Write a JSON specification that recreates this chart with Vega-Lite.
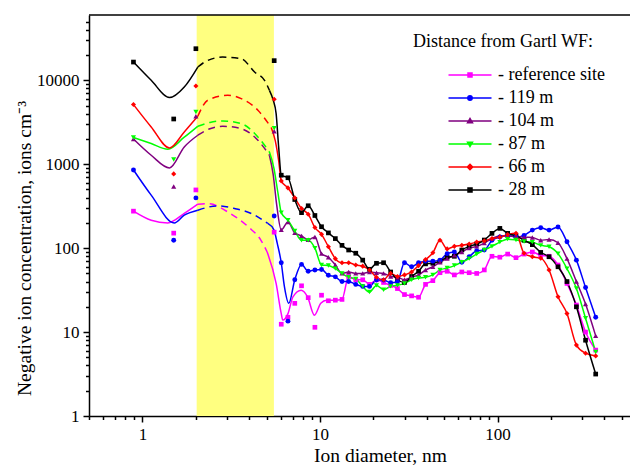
{
"$schema":"https://vega.github.io/schema/vega-lite/v6.json",
"width":541,"height":401,
"autosize":{"type":"none"},
"padding":{"left":89,"top":15,"right":0,"bottom":50},
"background":"white",
"config":{"view":{"stroke":null},"font":"Liberation Serif",
"axis":{"grid":false,"domainColor":"black","tickColor":"black","labelColor":"black","titleColor":"black","labelFont":"Liberation Serif","titleFont":"Liberation Serif","titleFontWeight":"normal","domainWidth":1.5,"tickWidth":1.5,"zindex":1,"labelFontSize":17,"labelPadding":4,"labelOverlap":false,"labelFlush":false,"titleFontSize":19.5},
"axisX":{"titleX":291,"titleY":30,"titleBaseline":"top"},
"axisY":{"titleX":-55,"titleY":233},
"legend":{"orient":"none","legendX":324,"legendY":18,"titleFont":"Liberation Serif","titleFontSize":18,"titleFontWeight":"normal","titleColor":"black","titlePadding":13,"titleLimit":400,"labelFont":"Liberation Serif","labelFontSize":18,"labelColor":"black","labelOffset":17,"labelLimit":300,"symbolSize":400,"symbolStrokeWidth":1.5,"symbolOffset":46,"rowPadding":3,"padding":0}},
"datasets":{
"band":[{"a":2.02,"b":5.5}],
"top":[{"t":60000}],
"pts":[
{"s":"reference site","d":0.89,"c":276,"m":1,"g":"L"},
{"s":"reference site","d":1.12,"c":215,"m":0,"g":"L"},
{"s":"reference site","d":1.39,"c":200,"m":0,"g":"L"},
{"s":"reference site","d":1.72,"c":259,"m":0,"g":"L"},
{"s":"reference site","d":2.05,"c":334,"m":0,"g":"L"},
{"s":"reference site","d":1.5,"c":151,"m":1,"g":""},
{"s":"reference site","d":2.0,"c":494,"m":1,"g":""},
{"s":"reference site","d":5.52,"c":155,"m":1,"g":""},
{"s":"reference site","d":2.05,"c":334,"m":0,"g":"D"},
{"s":"reference site","d":2.35,"c":338,"m":0,"g":"D"},
{"s":"reference site","d":3.12,"c":259,"m":0,"g":"D"},
{"s":"reference site","d":3.95,"c":179,"m":0,"g":"D"},
{"s":"reference site","d":4.65,"c":124,"m":0,"g":"D"},
{"s":"reference site","d":5.04,"c":90,"m":0,"g":"D"},
{"s":"reference site","d":5.04,"c":90,"m":0,"g":"R"},
{"s":"reference site","d":5.66,"c":38,"m":0,"g":"R"},
{"s":"reference site","d":6.05,"c":16.6,"m":0,"g":"R"},
{"s":"reference site","d":6.17,"c":13.9,"m":0,"g":"R"},
{"s":"reference site","d":6.6,"c":16.6,"m":0,"g":"R"},
{"s":"reference site","d":7.04,"c":26.3,"m":0,"g":"R"},
{"s":"reference site","d":7.83,"c":31.6,"m":0,"g":"R"},
{"s":"reference site","d":8.51,"c":26.3,"m":0,"g":"R"},
{"s":"reference site","d":9.3,"c":15.9,"m":0,"g":"R"},
{"s":"reference site","d":10.1,"c":22,"m":0,"g":"R"},
{"s":"reference site","d":10.9,"c":24,"m":0,"g":"R"},
{"s":"reference site","d":6.05,"c":12.4,"m":1,"g":""},
{"s":"reference site","d":6.6,"c":15,"m":1,"g":""},
{"s":"reference site","d":7.21,"c":22,"m":1,"g":""},
{"s":"reference site","d":7.87,"c":35.6,"m":1,"g":""},
{"s":"reference site","d":8.58,"c":25.7,"m":1,"g":""},
{"s":"reference site","d":9.36,"c":11.4,"m":1,"g":""},
{"s":"reference site","d":10.2,"c":27.5,"m":1,"g":""},
{"s":"reference site","d":11.15,"c":23.6,"m":1,"g":""},
{"s":"reference site","d":12.2,"c":24,"m":1,"g":"R"},
{"s":"reference site","d":13.3,"c":24.5,"m":1,"g":"R"},
{"s":"reference site","d":14.5,"c":46,"m":1,"g":"R"},
{"s":"reference site","d":15.9,"c":42,"m":1,"g":"R"},
{"s":"reference site","d":17.4,"c":42,"m":1,"g":"R"},
{"s":"reference site","d":19.0,"c":37,"m":1,"g":"R"},
{"s":"reference site","d":20.8,"c":42,"m":1,"g":"R"},
{"s":"reference site","d":22.8,"c":39,"m":1,"g":"R"},
{"s":"reference site","d":25.0,"c":36,"m":1,"g":"R"},
{"s":"reference site","d":27.3,"c":33,"m":1,"g":"R"},
{"s":"reference site","d":29.9,"c":28,"m":1,"g":"R"},
{"s":"reference site","d":32.8,"c":27,"m":1,"g":"R"},
{"s":"reference site","d":35.9,"c":26,"m":1,"g":"R"},
{"s":"reference site","d":39.3,"c":37,"m":1,"g":"R"},
{"s":"reference site","d":43.2,"c":41,"m":1,"g":"R"},
{"s":"reference site","d":47.4,"c":51,"m":1,"g":"R"},
{"s":"reference site","d":52.0,"c":53,"m":1,"g":"R"},
{"s":"reference site","d":57.1,"c":48,"m":1,"g":"R"},
{"s":"reference site","d":62.9,"c":52,"m":1,"g":"R"},
{"s":"reference site","d":69.2,"c":51,"m":1,"g":"R"},
{"s":"reference site","d":76.3,"c":50,"m":1,"g":"R"},
{"s":"reference site","d":84.2,"c":55,"m":1,"g":"R"},
{"s":"reference site","d":93.0,"c":80,"m":1,"g":"R"},
{"s":"reference site","d":103,"c":78,"m":1,"g":"R"},
{"s":"reference site","d":114,"c":85,"m":1,"g":"R"},
{"s":"reference site","d":127,"c":77,"m":1,"g":"R"},
{"s":"reference site","d":141,"c":85,"m":1,"g":"R"},
{"s":"reference site","d":157,"c":90,"m":1,"g":"R"},
{"s":"reference site","d":175,"c":82,"m":1,"g":"R"},
{"s":"reference site","d":195,"c":80,"m":1,"g":"R"},
{"s":"reference site","d":219,"c":63,"m":1,"g":"R"},
{"s":"reference site","d":246,"c":38,"m":1,"g":"R"},
{"s":"reference site","d":278,"c":21,"m":1,"g":"R"},
{"s":"reference site","d":313,"c":10,"m":1,"g":"R"},
{"s":"reference site","d":357,"c":6.1,"m":1,"g":"R"},

{"s":"119 m","d":0.89,"c":855,"m":1,"g":"L"},
{"s":"119 m","d":1.12,"c":428,"m":0,"g":"L"},
{"s":"119 m","d":1.51,"c":200,"m":0,"g":"L"},
{"s":"119 m","d":1.72,"c":247,"m":0,"g":"L"},
{"s":"119 m","d":2.05,"c":283,"m":0,"g":"L"},
{"s":"119 m","d":1.5,"c":124,"m":1,"g":""},
{"s":"119 m","d":2.0,"c":397,"m":1,"g":""},
{"s":"119 m","d":5.52,"c":242,"m":1,"g":""},
{"s":"119 m","d":2.05,"c":283,"m":0,"g":"D"},
{"s":"119 m","d":2.66,"c":319,"m":0,"g":"D"},
{"s":"119 m","d":3.3,"c":297,"m":0,"g":"D"},
{"s":"119 m","d":4.1,"c":259,"m":0,"g":"D"},
{"s":"119 m","d":5.08,"c":197,"m":0,"g":"D"},
{"s":"119 m","d":5.08,"c":197,"m":0,"g":"R"},
{"s":"119 m","d":5.5,"c":165,"m":0,"g":"R"},
{"s":"119 m","d":5.75,"c":113,"m":0,"g":"R"},
{"s":"119 m","d":6.05,"c":67,"m":1,"g":"R"},
{"s":"119 m","d":6.3,"c":35,"m":0,"g":"R"},
{"s":"119 m","d":6.67,"c":22,"m":0,"g":"R"},
{"s":"119 m","d":6.6,"c":13.5,"m":1,"g":""},
{"s":"119 m","d":7.21,"c":42,"m":1,"g":"R"},
{"s":"119 m","d":7.87,"c":64,"m":1,"g":"R"},
{"s":"119 m","d":8.58,"c":53,"m":1,"g":"R"},
{"s":"119 m","d":9.36,"c":55,"m":1,"g":"R"},
{"s":"119 m","d":10.2,"c":55.6,"m":1,"g":"R"},
{"s":"119 m","d":11.15,"c":47.5,"m":1,"g":"R"},
{"s":"119 m","d":12.2,"c":45.5,"m":1,"g":"R"},
{"s":"119 m","d":13.3,"c":40,"m":1,"g":"R"},
{"s":"119 m","d":14.5,"c":40,"m":1,"g":"R"},
{"s":"119 m","d":15.9,"c":37,"m":1,"g":"R"},
{"s":"119 m","d":17.4,"c":35,"m":1,"g":"R"},
{"s":"119 m","d":19.0,"c":35,"m":1,"g":"R"},
{"s":"119 m","d":20.8,"c":41.6,"m":1,"g":"R"},
{"s":"119 m","d":22.8,"c":41.6,"m":1,"g":"R"},
{"s":"119 m","d":25.0,"c":38.7,"m":1,"g":"R"},
{"s":"119 m","d":27.3,"c":39.7,"m":1,"g":"R"},
{"s":"119 m","d":29.9,"c":67,"m":1,"g":"R"},
{"s":"119 m","d":32.8,"c":60,"m":1,"g":"R"},
{"s":"119 m","d":35.9,"c":67,"m":1,"g":"R"},
{"s":"119 m","d":39.3,"c":70,"m":1,"g":"R"},
{"s":"119 m","d":43.2,"c":70,"m":1,"g":"R"},
{"s":"119 m","d":47.4,"c":72,"m":1,"g":"R"},
{"s":"119 m","d":52.0,"c":86,"m":1,"g":"R"},
{"s":"119 m","d":57.1,"c":90,"m":1,"g":"R"},
{"s":"119 m","d":62.9,"c":68,"m":1,"g":"R"},
{"s":"119 m","d":69.2,"c":79,"m":1,"g":"R"},
{"s":"119 m","d":76.3,"c":93,"m":1,"g":"R"},
{"s":"119 m","d":84.2,"c":95,"m":1,"g":"R"},
{"s":"119 m","d":93.0,"c":124,"m":1,"g":"R"},
{"s":"119 m","d":103,"c":136,"m":1,"g":"R"},
{"s":"119 m","d":114,"c":142,"m":1,"g":"R"},
{"s":"119 m","d":127,"c":136,"m":1,"g":"R"},
{"s":"119 m","d":141,"c":142,"m":1,"g":"R"},
{"s":"119 m","d":157,"c":164,"m":1,"g":"R"},
{"s":"119 m","d":175,"c":175,"m":1,"g":"R"},
{"s":"119 m","d":195,"c":164,"m":1,"g":"R"},
{"s":"119 m","d":219,"c":179,"m":1,"g":"R"},
{"s":"119 m","d":246,"c":119,"m":1,"g":"R"},
{"s":"119 m","d":278,"c":72,"m":1,"g":"R"},
{"s":"119 m","d":313,"c":34,"m":1,"g":"R"},
{"s":"119 m","d":357,"c":15,"m":1,"g":"R"},

{"s":"104 m","d":0.89,"c":2000,"m":1,"g":"L"},
{"s":"104 m","d":1.12,"c":1280,"m":0,"g":"L"},
{"s":"104 m","d":1.42,"c":904,"m":0,"g":"L"},
{"s":"104 m","d":1.72,"c":1607,"m":0,"g":"L"},
{"s":"104 m","d":2.05,"c":2215,"m":0,"g":"L"},
{"s":"104 m","d":1.5,"c":543,"m":1,"g":""},
{"s":"104 m","d":2.0,"c":3730,"m":1,"g":""},
{"s":"104 m","d":5.52,"c":2470,"m":1,"g":""},
{"s":"104 m","d":2.05,"c":2215,"m":0,"g":"D"},
{"s":"104 m","d":2.4,"c":2650,"m":0,"g":"D"},
{"s":"104 m","d":2.83,"c":2834,"m":0,"g":"D"},
{"s":"104 m","d":3.6,"c":2650,"m":0,"g":"D"},
{"s":"104 m","d":4.47,"c":1932,"m":0,"g":"D"},
{"s":"104 m","d":5.19,"c":1280,"m":0,"g":"D"},
{"s":"104 m","d":5.19,"c":1280,"m":0,"g":"R"},
{"s":"104 m","d":5.45,"c":750,"m":0,"g":"R"},
{"s":"104 m","d":5.7,"c":330,"m":0,"g":"R"},
{"s":"104 m","d":6.05,"c":165,"m":1,"g":"R"},
{"s":"104 m","d":6.6,"c":205,"m":1,"g":"R"},
{"s":"104 m","d":7.21,"c":152,"m":1,"g":"R"},
{"s":"104 m","d":7.87,"c":140,"m":1,"g":"R"},
{"s":"104 m","d":8.58,"c":126,"m":1,"g":"R"},
{"s":"104 m","d":9.36,"c":136,"m":1,"g":"R"},
{"s":"104 m","d":10.2,"c":86,"m":1,"g":"R"},
{"s":"104 m","d":11.15,"c":78,"m":1,"g":"R"},
{"s":"104 m","d":12.2,"c":63,"m":1,"g":"R"},
{"s":"104 m","d":13.3,"c":50,"m":1,"g":"R"},
{"s":"104 m","d":14.5,"c":52,"m":1,"g":"R"},
{"s":"104 m","d":15.9,"c":50,"m":1,"g":"R"},
{"s":"104 m","d":17.4,"c":50,"m":1,"g":"R"},
{"s":"104 m","d":19.0,"c":52,"m":1,"g":"R"},
{"s":"104 m","d":20.8,"c":51,"m":1,"g":"R"},
{"s":"104 m","d":22.8,"c":50,"m":1,"g":"R"},
{"s":"104 m","d":25.0,"c":46,"m":1,"g":"R"},
{"s":"104 m","d":27.3,"c":45,"m":1,"g":"R"},
{"s":"104 m","d":29.9,"c":42,"m":1,"g":"R"},
{"s":"104 m","d":32.8,"c":45,"m":1,"g":"R"},
{"s":"104 m","d":35.9,"c":48,"m":1,"g":"R"},
{"s":"104 m","d":39.3,"c":55,"m":1,"g":"R"},
{"s":"104 m","d":43.2,"c":60,"m":1,"g":"R"},
{"s":"104 m","d":47.4,"c":68,"m":1,"g":"R"},
{"s":"104 m","d":52.0,"c":75,"m":1,"g":"R"},
{"s":"104 m","d":57.1,"c":82,"m":1,"g":"R"},
{"s":"104 m","d":62.9,"c":90,"m":1,"g":"R"},
{"s":"104 m","d":69.2,"c":100,"m":1,"g":"R"},
{"s":"104 m","d":76.3,"c":105,"m":1,"g":"R"},
{"s":"104 m","d":84.2,"c":115,"m":1,"g":"R"},
{"s":"104 m","d":93.0,"c":130,"m":1,"g":"R"},
{"s":"104 m","d":103,"c":140,"m":1,"g":"R"},
{"s":"104 m","d":114,"c":140,"m":1,"g":"R"},
{"s":"104 m","d":127,"c":138,"m":1,"g":"R"},
{"s":"104 m","d":141,"c":135,"m":1,"g":"R"},
{"s":"104 m","d":157,"c":134,"m":1,"g":"R"},
{"s":"104 m","d":175,"c":124,"m":1,"g":"R"},
{"s":"104 m","d":195,"c":127,"m":1,"g":"R"},
{"s":"104 m","d":219,"c":116,"m":1,"g":"R"},
{"s":"104 m","d":246,"c":75,"m":1,"g":"R"},
{"s":"104 m","d":278,"c":40,"m":1,"g":"R"},
{"s":"104 m","d":313,"c":21.6,"m":1,"g":"R"},
{"s":"104 m","d":357,"c":9,"m":1,"g":"R"},

{"s":"87 m","d":0.89,"c":2080,"m":1,"g":"L"},
{"s":"87 m","d":1.12,"c":1763,"m":0,"g":"L"},
{"s":"87 m","d":1.39,"c":1510,"m":0,"g":"L"},
{"s":"87 m","d":1.72,"c":2100,"m":0,"g":"L"},
{"s":"87 m","d":2.05,"c":2834,"m":0,"g":"L"},
{"s":"87 m","d":1.5,"c":1137,"m":1,"g":""},
{"s":"87 m","d":2.0,"c":4200,"m":1,"g":""},
{"s":"87 m","d":5.52,"c":2690,"m":1,"g":""},
{"s":"87 m","d":2.05,"c":2834,"m":0,"g":"D"},
{"s":"87 m","d":2.4,"c":3150,"m":0,"g":"D"},
{"s":"87 m","d":2.83,"c":3280,"m":0,"g":"D"},
{"s":"87 m","d":3.6,"c":3050,"m":0,"g":"D"},
{"s":"87 m","d":4.47,"c":2115,"m":0,"g":"D"},
{"s":"87 m","d":5.19,"c":1400,"m":0,"g":"D"},
{"s":"87 m","d":5.19,"c":1400,"m":0,"g":"R"},
{"s":"87 m","d":5.5,"c":900,"m":0,"g":"R"},
{"s":"87 m","d":5.8,"c":450,"m":0,"g":"R"},
{"s":"87 m","d":6.05,"c":265,"m":1,"g":"R"},
{"s":"87 m","d":6.6,"c":215,"m":1,"g":"R"},
{"s":"87 m","d":7.21,"c":160,"m":1,"g":"R"},
{"s":"87 m","d":7.87,"c":124,"m":1,"g":"R"},
{"s":"87 m","d":8.58,"c":124,"m":1,"g":"R"},
{"s":"87 m","d":9.36,"c":100,"m":1,"g":"R"},
{"s":"87 m","d":10.2,"c":63,"m":1,"g":"R"},
{"s":"87 m","d":11.15,"c":62,"m":1,"g":"R"},
{"s":"87 m","d":12.2,"c":57,"m":1,"g":"R"},
{"s":"87 m","d":13.3,"c":50,"m":1,"g":"R"},
{"s":"87 m","d":14.5,"c":45,"m":1,"g":"R"},
{"s":"87 m","d":15.9,"c":43,"m":1,"g":"R"},
{"s":"87 m","d":17.4,"c":35,"m":1,"g":"R"},
{"s":"87 m","d":19.0,"c":30,"m":1,"g":"R"},
{"s":"87 m","d":20.8,"c":36,"m":1,"g":"R"},
{"s":"87 m","d":22.8,"c":32,"m":1,"g":"R"},
{"s":"87 m","d":25.0,"c":35,"m":1,"g":"R"},
{"s":"87 m","d":27.3,"c":36,"m":1,"g":"R"},
{"s":"87 m","d":29.9,"c":38,"m":1,"g":"R"},
{"s":"87 m","d":32.8,"c":42,"m":1,"g":"R"},
{"s":"87 m","d":35.9,"c":44,"m":1,"g":"R"},
{"s":"87 m","d":39.3,"c":45,"m":1,"g":"R"},
{"s":"87 m","d":43.2,"c":48,"m":1,"g":"R"},
{"s":"87 m","d":47.4,"c":55,"m":1,"g":"R"},
{"s":"87 m","d":52.0,"c":58,"m":1,"g":"R"},
{"s":"87 m","d":57.1,"c":62,"m":1,"g":"R"},
{"s":"87 m","d":62.9,"c":68,"m":1,"g":"R"},
{"s":"87 m","d":69.2,"c":75,"m":1,"g":"R"},
{"s":"87 m","d":76.3,"c":85,"m":1,"g":"R"},
{"s":"87 m","d":84.2,"c":95,"m":1,"g":"R"},
{"s":"87 m","d":93.0,"c":105,"m":1,"g":"R"},
{"s":"87 m","d":103,"c":118,"m":1,"g":"R"},
{"s":"87 m","d":114,"c":128,"m":1,"g":"R"},
{"s":"87 m","d":127,"c":125,"m":1,"g":"R"},
{"s":"87 m","d":141,"c":120,"m":1,"g":"R"},
{"s":"87 m","d":157,"c":118,"m":1,"g":"R"},
{"s":"87 m","d":175,"c":108,"m":1,"g":"R"},
{"s":"87 m","d":195,"c":104,"m":1,"g":"R"},
{"s":"87 m","d":219,"c":86,"m":1,"g":"R"},
{"s":"87 m","d":246,"c":57,"m":1,"g":"R"},
{"s":"87 m","d":278,"c":33,"m":1,"g":"R"},
{"s":"87 m","d":313,"c":14.6,"m":1,"g":"R"},
{"s":"87 m","d":357,"c":5.8,"m":1,"g":"R"},

{"s":"66 m","d":0.89,"c":5140,"m":1,"g":"L"},
{"s":"66 m","d":1.12,"c":2780,"m":0,"g":"L"},
{"s":"66 m","d":1.42,"c":1563,"m":0,"g":"L"},
{"s":"66 m","d":1.72,"c":2424,"m":0,"g":"L"},
{"s":"66 m","d":2.05,"c":3730,"m":0,"g":"L"},
{"s":"66 m","d":1.5,"c":767,"m":1,"g":""},
{"s":"66 m","d":2.0,"c":8560,"m":1,"g":""},
{"s":"66 m","d":5.52,"c":5940,"m":1,"g":""},
{"s":"66 m","d":2.05,"c":3730,"m":0,"g":"D"},
{"s":"66 m","d":2.33,"c":5780,"m":0,"g":"D"},
{"s":"66 m","d":3.02,"c":6630,"m":0,"g":"D"},
{"s":"66 m","d":3.6,"c":6050,"m":0,"g":"D"},
{"s":"66 m","d":4.47,"c":4400,"m":0,"g":"D"},
{"s":"66 m","d":5.31,"c":2735,"m":0,"g":"D"},
{"s":"66 m","d":5.31,"c":2735,"m":0,"g":"R"},
{"s":"66 m","d":5.6,"c":1900,"m":0,"g":"R"},
{"s":"66 m","d":5.85,"c":1100,"m":0,"g":"R"},
{"s":"66 m","d":6.05,"c":633,"m":1,"g":"R"},
{"s":"66 m","d":6.6,"c":522,"m":1,"g":"R"},
{"s":"66 m","d":7.21,"c":397,"m":1,"g":"R"},
{"s":"66 m","d":7.87,"c":297,"m":1,"g":"R"},
{"s":"66 m","d":8.58,"c":254,"m":1,"g":"R"},
{"s":"66 m","d":9.36,"c":176,"m":1,"g":"R"},
{"s":"66 m","d":10.2,"c":146,"m":1,"g":"R"},
{"s":"66 m","d":11.15,"c":104,"m":1,"g":"R"},
{"s":"66 m","d":12.2,"c":75,"m":1,"g":"R"},
{"s":"66 m","d":13.3,"c":67,"m":1,"g":"R"},
{"s":"66 m","d":14.5,"c":67,"m":1,"g":"R"},
{"s":"66 m","d":15.9,"c":63,"m":1,"g":"R"},
{"s":"66 m","d":17.4,"c":61,"m":1,"g":"R"},
{"s":"66 m","d":19.0,"c":55,"m":1,"g":"R"},
{"s":"66 m","d":20.8,"c":45,"m":1,"g":"R"},
{"s":"66 m","d":22.8,"c":42,"m":1,"g":"R"},
{"s":"66 m","d":25.0,"c":50,"m":1,"g":"R"},
{"s":"66 m","d":27.3,"c":46,"m":1,"g":"R"},
{"s":"66 m","d":29.9,"c":48,"m":1,"g":"R"},
{"s":"66 m","d":32.8,"c":52,"m":1,"g":"R"},
{"s":"66 m","d":35.9,"c":62,"m":1,"g":"R"},
{"s":"66 m","d":39.3,"c":73,"m":1,"g":"R"},
{"s":"66 m","d":43.2,"c":88,"m":1,"g":"R"},
{"s":"66 m","d":47.4,"c":124,"m":1,"g":"R"},
{"s":"66 m","d":52.0,"c":98,"m":1,"g":"R"},
{"s":"66 m","d":57.1,"c":105,"m":1,"g":"R"},
{"s":"66 m","d":62.9,"c":108,"m":1,"g":"R"},
{"s":"66 m","d":69.2,"c":112,"m":1,"g":"R"},
{"s":"66 m","d":76.3,"c":118,"m":1,"g":"R"},
{"s":"66 m","d":84.2,"c":122,"m":1,"g":"R"},
{"s":"66 m","d":93.0,"c":130,"m":1,"g":"R"},
{"s":"66 m","d":103,"c":135,"m":1,"g":"R"},
{"s":"66 m","d":114,"c":145,"m":1,"g":"R"},
{"s":"66 m","d":127,"c":150,"m":1,"g":"R"},
{"s":"66 m","d":141,"c":87,"m":1,"g":"R"},
{"s":"66 m","d":157,"c":79,"m":1,"g":"R"},
{"s":"66 m","d":175,"c":76,"m":1,"g":"R"},
{"s":"66 m","d":195,"c":55,"m":1,"g":"R"},
{"s":"66 m","d":219,"c":26.4,"m":1,"g":"R"},
{"s":"66 m","d":246,"c":16.6,"m":1,"g":"R"},
{"s":"66 m","d":278,"c":7,"m":1,"g":"R"},
{"s":"66 m","d":313,"c":5.6,"m":1,"g":"R"},
{"s":"66 m","d":357,"c":5.2,"m":1,"g":"R"},

{"s":"28 m","d":0.89,"c":16500,"m":1,"g":"L"},
{"s":"28 m","d":1.12,"c":10000,"m":0,"g":"L"},
{"s":"28 m","d":1.42,"c":6220,"m":0,"g":"L"},
{"s":"28 m","d":1.72,"c":8320,"m":0,"g":"L"},
{"s":"28 m","d":2.05,"c":14400,"m":0,"g":"L"},
{"s":"28 m","d":1.5,"c":3460,"m":1,"g":""},
{"s":"28 m","d":2.0,"c":23800,"m":1,"g":""},
{"s":"28 m","d":5.52,"c":17150,"m":1,"g":""},
{"s":"28 m","d":2.05,"c":14400,"m":0,"g":"D"},
{"s":"28 m","d":2.24,"c":16500,"m":0,"g":"D"},
{"s":"28 m","d":2.83,"c":18900,"m":0,"g":"D"},
{"s":"28 m","d":3.6,"c":18100,"m":0,"g":"D"},
{"s":"28 m","d":4.28,"c":12560,"m":0,"g":"D"},
{"s":"28 m","d":4.87,"c":10000,"m":0,"g":"D"},
{"s":"28 m","d":5.19,"c":7600,"m":0,"g":"D"},
{"s":"28 m","d":5.19,"c":7600,"m":0,"g":"R"},
{"s":"28 m","d":5.45,"c":5800,"m":0,"g":"R"},
{"s":"28 m","d":5.66,"c":4000,"m":0,"g":"R"},
{"s":"28 m","d":5.85,"c":1600,"m":0,"g":"R"},
{"s":"28 m","d":6.05,"c":740,"m":1,"g":"R"},
{"s":"28 m","d":6.6,"c":690,"m":1,"g":"R"},
{"s":"28 m","d":7.21,"c":380,"m":1,"g":"R"},
{"s":"28 m","d":7.87,"c":265,"m":1,"g":"R"},
{"s":"28 m","d":8.58,"c":320,"m":1,"g":"R"},
{"s":"28 m","d":9.36,"c":245,"m":1,"g":"R"},
{"s":"28 m","d":10.2,"c":180,"m":1,"g":"R"},
{"s":"28 m","d":11.15,"c":152,"m":1,"g":"R"},
{"s":"28 m","d":12.2,"c":130,"m":1,"g":"R"},
{"s":"28 m","d":13.3,"c":108,"m":1,"g":"R"},
{"s":"28 m","d":14.5,"c":95,"m":1,"g":"R"},
{"s":"28 m","d":15.9,"c":87,"m":1,"g":"R"},
{"s":"28 m","d":17.4,"c":72,"m":1,"g":"R"},
{"s":"28 m","d":19.0,"c":56,"m":1,"g":"R"},
{"s":"28 m","d":20.8,"c":66,"m":1,"g":"R"},
{"s":"28 m","d":22.8,"c":67,"m":1,"g":"R"},
{"s":"28 m","d":25.0,"c":52,"m":1,"g":"R"},
{"s":"28 m","d":27.3,"c":42,"m":1,"g":"R"},
{"s":"28 m","d":29.9,"c":39,"m":1,"g":"R"},
{"s":"28 m","d":32.8,"c":46,"m":1,"g":"R"},
{"s":"28 m","d":35.9,"c":53,"m":1,"g":"R"},
{"s":"28 m","d":39.3,"c":65,"m":1,"g":"R"},
{"s":"28 m","d":43.2,"c":66,"m":1,"g":"R"},
{"s":"28 m","d":47.4,"c":70,"m":1,"g":"R"},
{"s":"28 m","d":52.0,"c":78,"m":1,"g":"R"},
{"s":"28 m","d":57.1,"c":80,"m":1,"g":"R"},
{"s":"28 m","d":62.9,"c":95,"m":1,"g":"R"},
{"s":"28 m","d":69.2,"c":105,"m":1,"g":"R"},
{"s":"28 m","d":76.3,"c":112,"m":1,"g":"R"},
{"s":"28 m","d":84.2,"c":125,"m":1,"g":"R"},
{"s":"28 m","d":93.0,"c":150,"m":1,"g":"R"},
{"s":"28 m","d":103,"c":172,"m":1,"g":"R"},
{"s":"28 m","d":114,"c":150,"m":1,"g":"R"},
{"s":"28 m","d":127,"c":140,"m":1,"g":"R"},
{"s":"28 m","d":141,"c":124,"m":1,"g":"R"},
{"s":"28 m","d":157,"c":110,"m":1,"g":"R"},
{"s":"28 m","d":175,"c":89,"m":1,"g":"R"},
{"s":"28 m","d":195,"c":79,"m":1,"g":"R"},
{"s":"28 m","d":219,"c":60,"m":1,"g":"R"},
{"s":"28 m","d":246,"c":40,"m":1,"g":"R"},
{"s":"28 m","d":278,"c":20,"m":1,"g":"R"},
{"s":"28 m","d":313,"c":8,"m":1,"g":"R"},
{"s":"28 m","d":357,"c":3.16,"m":1,"g":"R"}
]},
"layer":[
{"data":{"name":"band"},"mark":{"type":"rect","color":"#ffff80"},
 "encoding":{"x":{"field":"a","type":"quantitative","scale":{"type":"log","domain":[0.5,557],"nice":false},
   "axis":{"title":"Ion diameter, nm","values":[0.5,0.6,0.7,0.8,0.9,1,2,3,4,5,6,7,8,9,10,20,30,40,50,60,70,80,90,100,200,300,400,500],
    "labelExpr":"datum.value == 1 ? '1' : datum.value == 10 ? '10' : datum.value == 100 ? '100' : ''",
    "tickSize":{"condition":{"test":"datum.value == 1 || datum.value == 10 || datum.value == 100","value":6},"value":3.5}}},
  "x2":{"field":"b"}}},
{"data":{"name":"pts"},
 "encoding":{
 "x":{"field":"d","type":"quantitative","scale":{"type":"log","domain":[0.5,557],"nice":false},
   "axis":{"title":"Ion diameter, nm","values":[0.5,0.6,0.7,0.8,0.9,1,2,3,4,5,6,7,8,9,10,20,30,40,50,60,70,80,90,100,200,300,400,500],
    "labelExpr":"datum.value == 1 ? '1' : datum.value == 10 ? '10' : datum.value == 100 ? '100' : ''",
    "tickSize":{"condition":{"test":"datum.value == 1 || datum.value == 10 || datum.value == 100","value":6},"value":3.5}}},
 "y":{"field":"c","type":"quantitative","scale":{"type":"log","domain":[1,60000],"nice":false},
   "axis":{"title":"Negative ion concentration, ions cm⁻³","values":[1,2,3,4,5,6,7,8,9,10,20,30,40,50,60,70,80,90,100,200,300,400,500,600,700,800,900,1000,2000,3000,4000,5000,6000,7000,8000,9000,10000,20000,30000,40000,50000],
    "labelExpr":"datum.value == 1 ? '1' : datum.value == 10 ? '10' : datum.value == 100 ? '100' : datum.value == 1000 ? '1000' : datum.value == 10000 ? '10000' : ''",
    "tickSize":{"condition":{"test":"datum.value == 1 || datum.value == 10 || datum.value == 100 || datum.value == 1000 || datum.value == 10000","value":6},"value":3.5}}},
 "color":{"field":"s","type":"nominal","sort":null,
   "scale":{"domain":["reference site","119 m","104 m","87 m","66 m","28 m"],"range":["#ff00ff","#0000ff","#800080","#00ff00","#ff0000","#000000"]},
   "legend":{"title":"Distance from Gartl WF:","labelExpr":"'- ' + datum.label",
    "symbolType":"M-2.15,0H2.15M-0.2,-0.2H0.2V0.2H-0.2Z",
    "encode":{"symbols":{"update":{
      "shape":{"signal":"datum.value == '119 m' ? 'M-2.15,0H2.15M-0.22,0A0.22,0.22 0 1,0 0.22,0A0.22,0.22 0 1,0 -0.22,0Z' : datum.value == '104 m' ? 'M-2.15,0H2.15M-0.25,0.18L0,-0.26L0.25,0.18Z' : datum.value == '87 m' ? 'M-2.15,0H2.15M-0.25,-0.18L0,0.26L0.25,-0.18Z' : datum.value == '66 m' ? 'M-2.15,0H2.15M-0.27,0L0,-0.27L0.27,0L0,0.27Z' : 'M-2.15,0H2.15M-0.2,-0.2H0.2V0.2H-0.2Z'"},
      "fill":{"scale":"color","field":"value"},"stroke":{"scale":"color","field":"value"},"opacity":{"value":1},"strokeWidth":{"value":1.5}}}}}}
 },
 "layer":[
 {"transform":[{"filter":"datum.g == 'L' || datum.g == 'R'"}],
  "mark":{"type":"line","interpolate":"monotone","strokeWidth":1.5},
  "encoding":{"detail":{"field":"g"}}},
 {"transform":[{"filter":"datum.g == 'D'"}],
  "mark":{"type":"line","interpolate":"monotone","strokeWidth":1.5,"strokeDash":[7,5]}},
 {"transform":[{"filter":"datum.m == 1 && (datum.s == 'reference site' || datum.s == '28 m')"}],
  "mark":{"type":"point","filled":true,"size":22,"opacity":1,"strokeWidth":0,"shape":"square"}},
 {"transform":[{"filter":"datum.m == 1 && datum.s == '119 m'"}],
  "mark":{"type":"point","filled":true,"size":24,"opacity":1,"strokeWidth":0,"shape":"circle"}},
 {"transform":[{"filter":"datum.m == 1 && datum.s == '104 m'"}],
  "mark":{"type":"point","filled":true,"size":26,"opacity":1,"strokeWidth":0,"shape":"triangle-up"}},
 {"transform":[{"filter":"datum.m == 1 && datum.s == '87 m'"}],
  "mark":{"type":"point","filled":true,"size":26,"opacity":1,"strokeWidth":0,"shape":"triangle-down"}},
 {"transform":[{"filter":"datum.m == 1 && datum.s == '66 m'"}],
  "mark":{"type":"point","filled":true,"size":26,"opacity":1,"strokeWidth":0,"shape":"diamond"}}
 ]},
{"data":{"name":"top"},"mark":{"type":"rule","color":"black","strokeWidth":1.5},
 "encoding":{"y":{"field":"t","type":"quantitative","scale":{"type":"log","domain":[1,60000],"nice":false},
   "axis":{"title":"Negative ion concentration, ions cm⁻³","values":[1,2,3,4,5,6,7,8,9,10,20,30,40,50,60,70,80,90,100,200,300,400,500,600,700,800,900,1000,2000,3000,4000,5000,6000,7000,8000,9000,10000,20000,30000,40000,50000],
    "labelExpr":"datum.value == 1 ? '1' : datum.value == 10 ? '10' : datum.value == 100 ? '100' : datum.value == 1000 ? '1000' : datum.value == 10000 ? '10000' : ''",
    "tickSize":{"condition":{"test":"datum.value == 1 || datum.value == 10 || datum.value == 100 || datum.value == 1000 || datum.value == 10000","value":6},"value":3.5}}}}}
]
}
